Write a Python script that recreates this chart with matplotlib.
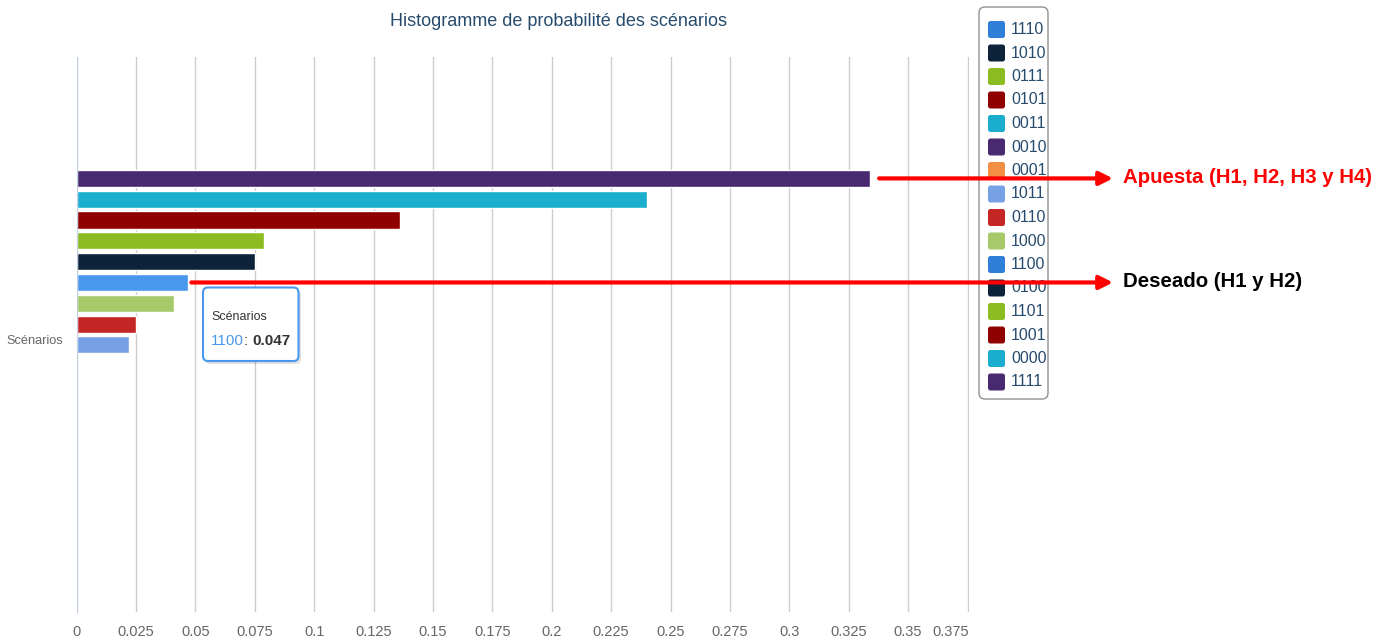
import matplotlib
matplotlib.use('Agg')
import matplotlib.pyplot as plt
from matplotlib.patches import FancyBboxPatch, FancyArrowPatch
from matplotlib.transforms import Affine2D, ScaledTranslation

W, H = 1392, 639
plt.rcParams['font.family'] = ['Liberation Sans', 'DejaVu Sans']

# series, in the order they are stacked in the single category band (top to bottom)
bar_names = ['0010', '0011', '0101', '0111', '1010', '1100', '1000', '0110', '1011',
             '1110', '0001', '0100', '1101', '1001', '0000', '1111']
bar_values = [0.334, 0.240, 0.136, 0.079, 0.075, 0.047, 0.041, 0.025, 0.022,
              0, 0, 0, 0, 0, 0, 0]

# legend order and colours (Highcharts default palette)
legend_names = ['1110', '1010', '0111', '0101', '0011', '0010', '0001', '1011',
                '0110', '1000', '1100', '0100', '1101', '1001', '0000', '1111']
legend_colors = ['#2f7ed8', '#0d233a', '#8bbc21', '#910000', '#1aadce', '#492970',
                 '#f28f43', '#77a1e5', '#c42525', '#a6c96a', '#2f7ed8', '#0d233a',
                 '#8bbc21', '#910000', '#1aadce', '#492970']
colour_of = dict(zip(legend_names, legend_colors))
hovered = '1100'
hover_colour = '#4a97ee'

category = 'Scénarios'
xticks = [0, 0.025, 0.05, 0.075, 0.1, 0.125, 0.15, 0.175, 0.2, 0.225, 0.25,
          0.275, 0.3, 0.325, 0.35, 0.375]
xtick_labels = ['0', '0.025', '0.05', '0.075', '0.1', '0.125', '0.15', '0.175', '0.2',
                '0.225', '0.25', '0.275', '0.3', '0.325', '0.35', '0.375']

fig = plt.figure(figsize=(W / 100, H / 100), dpi=100)
# pixel transform: origin top-left of the figure
pix = Affine2D().scale(1.0 / W, -1.0 / H).translate(0, 1) + fig.transFigure

left, right, top, bottom = 76.7, 967.5, 57, 612
extra = 2  # px of room so the last grid line is not clipped
ax = fig.add_axes([left / W, 1 - bottom / H, (right - left + extra) / W, (bottom - top) / H])

n = len(bar_names)
slot = 0.6 / n
for i, (name, val) in enumerate(zip(bar_names, bar_values)):
    pos = -0.5 + 0.2 + (i + 0.5) * slot
    c = hover_colour if name == hovered else colour_of[name]
    ax.barh(pos, val, height=slot * 0.82, color=c, edgecolor='white', linewidth=1, zorder=3)

xmax = 0.375
ax.set_xlim(0, xmax * (right - left + extra) / (right - left))
ax.set_ylim(0.5, -0.5)
ax.set_xticks(xticks)
ax.set_xticklabels(xtick_labels)
ax.set_yticks([0])
ax.set_yticklabels([category])
ax.tick_params(axis='x', length=0, pad=9, labelsize=10.5, labelcolor='#666666')
ax.tick_params(axis='y', length=0, pad=10, labelsize=9.2, labelcolor='#666666')
ax.grid(axis='x', color='#cccccc', linewidth=1, zorder=0)
for s in ['top', 'right', 'bottom']:
    ax.spines[s].set_visible(False)
ax.spines['left'].set_color('#c0d0e0')
ax.spines['left'].set_zorder(4)

# Highcharts nudges the last label inside the chart and the category label down a bit
xl = ax.get_xticklabels()
xl[-1].set_transform(xl[-1].get_transform() + ScaledTranslation(-0.17, 0, fig.dpi_scale_trans))
for t in ax.get_yticklabels():
    t.set_transform(t.get_transform() + ScaledTranslation(0, -0.05, fig.dpi_scale_trans))

fig.text(558, 22, 'Histogramme de probabilité des scénarios', transform=pix,
         ha='center', va='center', fontsize=13, color='#274b6d')

# legend box
fig.patches.append(FancyBboxPatch((979, 7), 69, 392, boxstyle='round,pad=0,rounding_size=6',
                                  transform=pix, facecolor='white', edgecolor='#909090',
                                  linewidth=1, zorder=1))
for i, (name, c) in enumerate(zip(legend_names, legend_colors)):
    yc = 29.5 + i * 23.5
    fig.patches.append(FancyBboxPatch((988, yc - 8.5), 17, 17,
                                      boxstyle='round,pad=0,rounding_size=2.5',
                                      transform=pix, facecolor=c, edgecolor='none', zorder=2))
    fig.text(1011, yc, name, transform=pix, ha='left', va='center',
             fontsize=11.5, color='#274b6d', zorder=3)

# tooltip on the hovered bar
fig.patches.append(FancyBboxPatch((205, 290), 96, 74, boxstyle='round,pad=0,rounding_size=5',
                                  transform=pix, facecolor='#000000', alpha=0.12,
                                  edgecolor='none', zorder=5))
fig.patches.append(FancyBboxPatch((203, 287.5), 95.5, 73.5,
                                  boxstyle='round,pad=0,rounding_size=5',
                                  transform=pix, facecolor='white', edgecolor=hover_colour,
                                  linewidth=1.5, zorder=6))
hv = bar_values[bar_names.index(hovered)]
fig.text(211, 317, category, transform=pix, ha='left', va='center',
         fontsize=9, color='#333333', zorder=7)
t1 = fig.text(211, 341, hovered, transform=pix, ha='left', va='center',
              fontsize=11, color=hover_colour, zorder=7)
fig.canvas.draw()
r = fig.canvas.get_renderer()
x1 = 211 + t1.get_window_extent(r).width
t2 = fig.text(x1, 341, ': ', transform=pix, ha='left', va='center',
              fontsize=11, color='#333333', zorder=7)
x2 = x1 + t2.get_window_extent(r).width
fig.text(x2, 341, '%.3f' % hv, transform=pix, ha='left', va='center',
         fontsize=11, color='#333333', fontweight='bold', zorder=7)

# red arrows with annotations (drawn above the legend)
arrow_targets = [('0010', 'Apuesta (H1, H2, H3 y H4)', '#ff0000'),
                 ('1100', 'Deseado (H1 y H2)', '#000000')]
tip_x = 1113
for name, label, tc in arrow_targets:
    i = bar_names.index(name)
    pos = -0.5 + 0.2 + (i + 0.5) * slot
    bx, by = ax.transData.transform((bar_values[i], pos))
    gap = 9 if name == '0010' else 3
    ypix = H - by
    arr = FancyArrowPatch((bx + gap, ypix), (tip_x, ypix), transform=pix,
                          arrowstyle='-|>', color='#ff0000', lw=3,
                          mutation_scale=20, shrinkA=0, shrinkB=0, zorder=10)
    fig.add_artist(arr)
    fig.text(1123, ypix - 1, label, transform=pix, ha='left', va='center',
             fontsize=14.7, fontweight='bold', color=tc, zorder=10)

fig.savefig('out.png', dpi=100, facecolor='white')
